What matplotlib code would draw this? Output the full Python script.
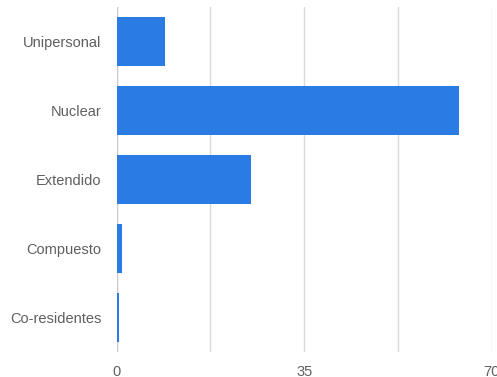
import matplotlib
matplotlib.use('Agg')
import matplotlib.pyplot as plt

# ---- data ----
categories = ['Unipersonal', 'Nuclear', 'Extendido', 'Compuesto', 'Co-residentes']
values     = [9.1, 63.9, 25.0, 1.05, 0.4]
x_ticks    = [0, 35, 70]

plt.rcParams['font.family'] = ['Liberation Sans', 'DejaVu Sans']

fig = plt.figure(figsize=(4.97, 3.77), dpi=100)
ax = fig.add_axes([0.2348, 0.0663, 0.9893 - 0.2348, 0.9814 - 0.0663])

ypos = list(range(len(categories)))
ax.barh(ypos, values, height=0.70, color='#2b7be4', zorder=3)

ax.set_ylim(len(categories) - 0.5, -0.5)
ax.set_xlim(0, 70)
ax.set_yticks(ypos)
ax.set_yticklabels(categories)
ax.set_xticks(x_ticks)
ax.set_xticks([17.5, 52.5], minor=True)

ax.grid(True, axis='x', which='both', color='#d9d9d9', linewidth=1, zorder=0)
for s in ax.spines.values():
    s.set_visible(False)
ax.axvline(0, color='#cccccc', linewidth=1, zorder=2)

ax.tick_params(axis='both', which='both', length=0, labelsize=10.5,
               labelcolor='#5f5f5f')
ax.tick_params(axis='y', pad=11)
ax.tick_params(axis='x', pad=9)

fig.savefig('out.png', dpi=100)
